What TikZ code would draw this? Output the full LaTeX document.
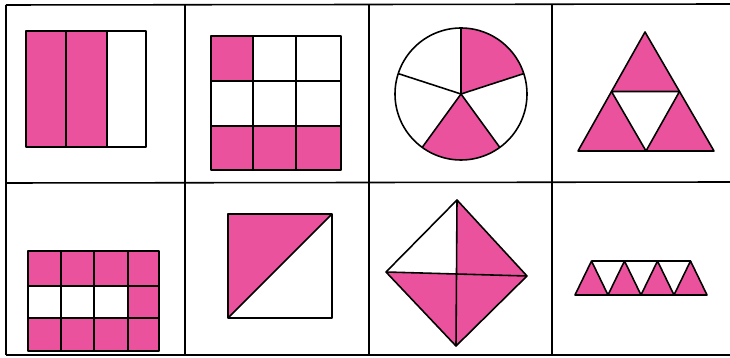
\documentclass[tikz,border=0pt]{standalone}
\usepackage{tikz}
\usetikzlibrary{calc}
\definecolor{shade}{RGB}{234,82,158}
\tikzset{part/.style={fill=shade}}

\begin{document}
\begin{tikzpicture}[x=0.02cm, y=0.02cm, line width=0.9pt, line join=round]
				\useasboundingbox (0,0) rectangle (730,358);
				
				% table
				\draw (6,353) -- (730,354);
				\draw (6,175) -- (730,176);
				\draw (6,3) -- (730,3);
				\foreach \x in {6,185,369,552}
				\draw (\x,353) -- (\x,3);
				
				% halves of a rectangle
				\fill[part] (26,211) rectangle (107,327);
				\draw (26,211) rectangle (146,327);
				\draw (66,211) -- (66,327);
				\draw (107,211) -- (107,327);
				
				% nine squares
				\fill[part] (211,277) rectangle (253,322);
				\fill[part] (211,188) rectangle (341,232);
				\draw (211,188) rectangle (341,322);
				\foreach \x in {253,296}
				\draw (\x,188) -- (\x,322);
				\foreach \y in {232,277}
				\draw (211,\y) -- (341,\y);
				
				% circle in five parts
				\coordinate (O) at (461,264);
				\fill[part] (O) -- ++(18:66) arc (18:90:66) -- cycle;
				\fill[part] (O) -- ++(-126:66) arc (-126:-54:66) -- cycle;
				\draw (O) circle (66);
				\foreach \a in {90,18,-54,-126,162}
				\draw (O) -- ++(\a:66);
				
				% triangle in four parts
				\coordinate (A) at (578,207);
				\coordinate (B) at (714,207);
				\coordinate (C) at (645,326);
				\coordinate (D) at ($(A)!0.5!(B)$);
				\coordinate (E) at ($(B)!0.5!(C)$);
				\coordinate (F) at ($(C)!0.5!(A)$);
				\fill[part] (A) -- (B) -- (C) -- cycle;
				\filldraw[fill=white] (D) -- (E) -- (F) -- cycle;
				\draw (A) -- (B) -- (C) -- cycle;
				
				% twelve squares
				\fill[part] (28,72) rectangle (159,107);
				\fill[part] (28,7) rectangle (159,40);
				\fill[part] (128,40) rectangle (159,72);
				\draw (28,7) rectangle (159,107);
				\foreach \x in {61,94,128}
				\draw (\x,7) -- (\x,107);
				\foreach \y in {40,72}
				\draw (28,\y) -- (159,\y);
				
				% square cut by a diagonal
				\coordinate (P) at (228,40);
				\coordinate (Q) at (332,40);
				\coordinate (R) at (332,144);
				\coordinate (S) at (228,144);
				\fill[part] (P) -- (R) -- (S) -- cycle;
				\draw (P) -- (Q) -- (R) -- (S) -- cycle;
				\draw (P) -- (R);
				
				% rhombus in four parts
				\coordinate (T) at (457,158);
				\coordinate (U) at (527,82);
				\coordinate (V) at (456,12);
				\coordinate (W) at (386,86);
				\coordinate (M) at (456,84);
				\fill[part] (T) -- (U) -- (V) -- (W) -- (M) -- cycle;
				\draw (T) -- (U) -- (V) -- (W) -- cycle;
				\draw (T) -- (V);
				\draw (W) -- (U);
				
				% strip of triangles
				\foreach \x in {575,608,641,674}
				\filldraw[part] (\x,63) -- ++(33,0) -- ++(-16.5,34) -- cycle;
				\draw (591.5,97) -- (690.5,97);
			\end{tikzpicture}
\end{document}
